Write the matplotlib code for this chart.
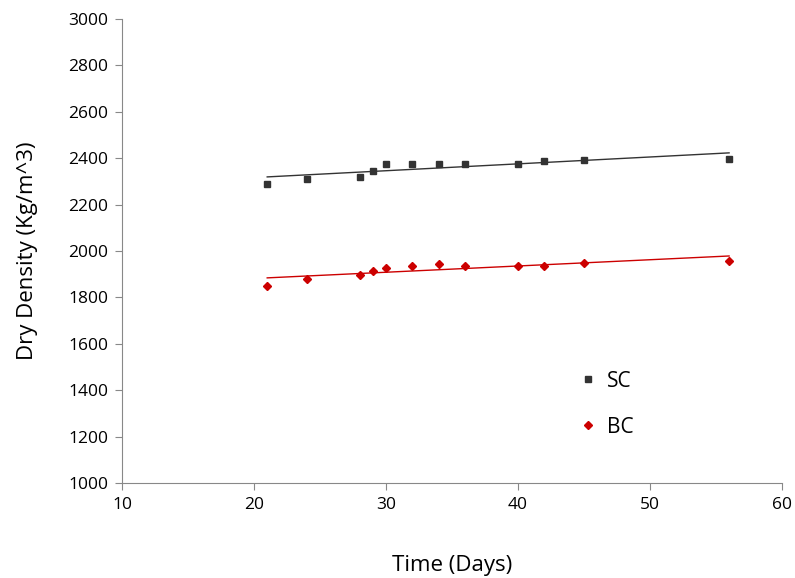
import matplotlib.pyplot as plt
import numpy as np

days = [21, 24, 28, 29, 30, 32, 34, 36, 40, 42, 45, 56]
sc = [2290, 2312, 2319, 2346, 2376, 2376, 2376, 2376, 2376, 2388, 2391, 2397]
bc = [1850, 1878, 1897, 1913, 1925, 1937, 1943, 1935, 1935, 1937, 1948, 1958]

plt.rcParams['font.family'] = ['Open Sans', 'DejaVu Sans']

fig = plt.figure(figsize=(7.95, 5.78), dpi=100)
ax = fig.add_axes([0.1535, 0.1644, 0.83, 0.8026])

x = np.array(days)
for vals, color, marker, ms, label in [(sc, '#333333', 's', 5, 'SC'),
                                         (bc, '#cc0000', 'D', 4.5, 'BC')]:
    ax.plot(x, vals, linestyle='none', marker=marker, color=color, markersize=ms, label=label)
    k, b = np.polyfit(x, vals, 1)
    xs = np.array([x.min(), x.max()])
    ax.plot(xs, k * xs + b, color=color, linewidth=1)

ax.set_xlim(10, 60)
ax.set_ylim(1000, 3000)
ax.set_xticks(range(10, 61, 10))
ax.set_yticks(range(1000, 3001, 200))
ax.tick_params(labelsize=12.5, direction='out', length=5, color='#888888', pad=5)
ax.spines['top'].set_visible(False)
ax.spines['right'].set_visible(False)
for s in ['left', 'bottom']:
    ax.spines[s].set_color('#888888')
ax.set_xlabel('Time (Days)', fontsize=16, labelpad=30)
ax.set_ylabel('Dry Density (Kg/m^3)', fontsize=16, labelpad=22)

ax.legend(loc='center left', bbox_to_anchor=(0.662, 0.17), frameon=False, fontsize=15,
          handletextpad=0.4, labelspacing=1.2, handlelength=1.0)

fig.savefig('out.png', dpi=100)
